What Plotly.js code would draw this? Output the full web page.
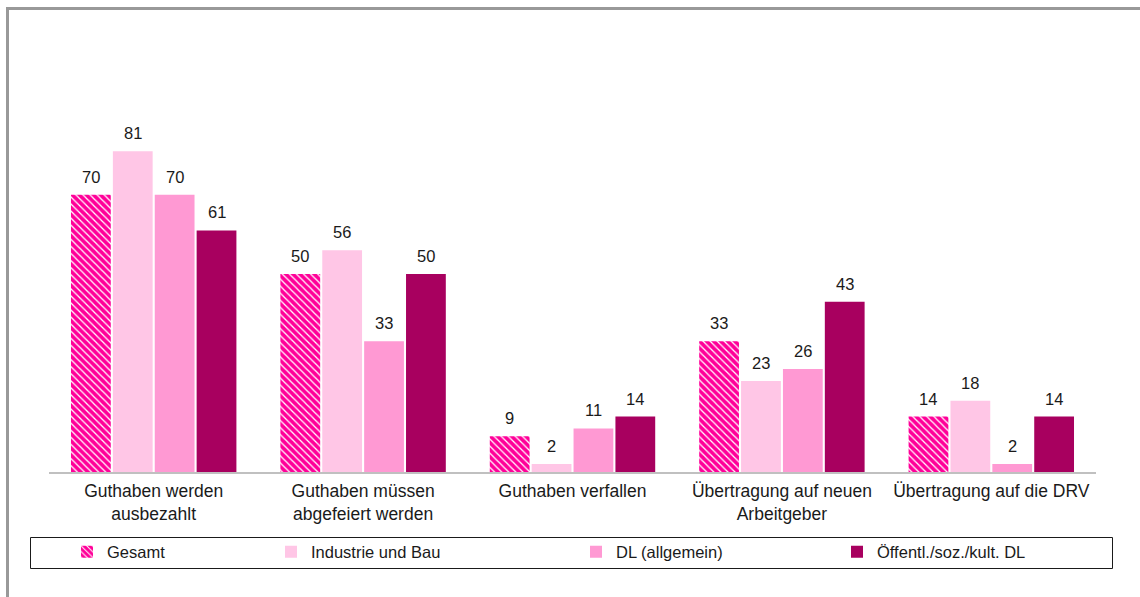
<!DOCTYPE html>
<html>
<head>
<meta charset="utf-8">
<script src="https://cdn.plot.ly/plotly-3.0.1.min.js"></script>
<style>html,body{margin:0;padding:0;background:#fff;}#chart{width:1140px;height:597px;}</style>
</head>
<body>
<div id="chart"></div>
<script>
// ---- data ----
const categories = [
  "Guthaben werden<br>ausbezahlt",
  "Guthaben müssen<br>abgefeiert werden",
  "Guthaben verfallen",
  "Übertragung auf neuen<br>Arbeitgeber",
  "Übertragung auf die DRV"
];
const seriesNames = ["Gesamt", "Industrie und Bau", "DL (allgemein)", "Öffentl./soz./kult. DL"];
const gesamt     = [70, 50, 9, 33, 14];
const industrie  = [81, 56, 2, 23, 18];
const dlAllg     = [70, 33, 11, 26, 2];
const oeffentl   = [61, 50, 14, 43, 14];
const seriesValues = [gesamt, industrie, dlAllg, oeffentl];

// ---- styling ----
const colors = ["#FF0099", "#FFC6E6", "#FF99D3", "#A8005F"];
const W = 1140, H = 597;
const M = {l: 49, r: 44, t: 76, b: 125};
const pw = W - M.l - M.r, ph = H - M.t - M.b;
const px2x = p => (p - M.l) / pw;
const px2y = p => (H - M.b - p) / ph;
const FONT = {family: "Liberation Sans, Arial, sans-serif", size: 16.5, color: "#1a1a1a"};
const TICKFONT = {family: "Liberation Sans, Arial, sans-serif", size: 17.5, color: "#1a1a1a"};
const bargap = 0.2;
const legendTextStarts = [108, 312, 617, 878];

const traces = seriesValues.map((vals, k) => {
  const t = {
    type: "bar",
    name: seriesNames[k],
    x: categories,
    y: vals,
    marker: {color: colors[k], line: {width: 0}},
    hoverinfo: "skip",
    legend: k === 0 ? "legend" : "legend" + (k + 1)
  };
  if (k === 0) {
    t.marker.pattern = {shape: "\\", fgcolor: "#ffffff", bgcolor: colors[0], size: 5, solidity: 0.25, fillmode: "replace"};
  }
  return t;
});

// value labels
const nS = seriesValues.length;
const slot = (1 - bargap) / nS;
const annotations = [];
seriesValues.forEach((vals, k) => {
  vals.forEach((v, i) => {
    annotations.push({
      x: i + (k - (nS - 1) / 2) * slot, y: v, xref: "x", yref: "y",
      text: String(v), showarrow: false, yanchor: "bottom", yshift: 7,
      font: FONT
    });
  });
});

const shapes = [
  {type: "line", xref: "paper", yref: "paper", x0: px2x(7.5), x1: px2x(7.5), y0: px2y(8.5), y1: px2y(600), line: {color: "#999999", width: 3}},
  {type: "line", xref: "paper", yref: "paper", x0: px2x(6), x1: px2x(1145), y0: px2y(8.5), y1: px2y(8.5), line: {color: "#999999", width: 3}},
  {type: "rect", xref: "paper", yref: "paper", x0: px2x(30.5), x1: px2x(1112.5), y0: px2y(537.5), y1: px2y(568.5), line: {color: "#1a1a1a", width: 1}, fillcolor: "rgba(0,0,0,0)"}
];

const layout = {
  width: W, height: H,
  margin: M,
  paper_bgcolor: "#ffffff", plot_bgcolor: "#ffffff",
  font: FONT,
  barmode: "group",
  bargap: bargap,
  bargroupgap: 0.05,
  xaxis: {type: "category", showline: true, linecolor: "#c0c0c0", linewidth: 2, ticks: "", ticklabelstandoff: 2, showgrid: false, zeroline: false, tickfont: TICKFONT, fixedrange: true},
  yaxis: {range: [0, 100], visible: false, showgrid: false, zeroline: false, fixedrange: true},
  annotations: annotations,
  shapes: shapes,
  showlegend: true
};
legendTextStarts.forEach((xs, k) => {
  const key = k === 0 ? "legend" : "legend" + (k + 1);
  layout[key] = {
    x: px2x(xs - 41), y: px2y(552), xanchor: "left", yanchor: "middle",
    orientation: "h", bgcolor: "rgba(0,0,0,0)", borderwidth: 0, font: FONT
  };
});

Plotly.newPlot("chart", traces, layout, {displayModeBar: false, staticPlot: true});
</script>
</body>
</html>
